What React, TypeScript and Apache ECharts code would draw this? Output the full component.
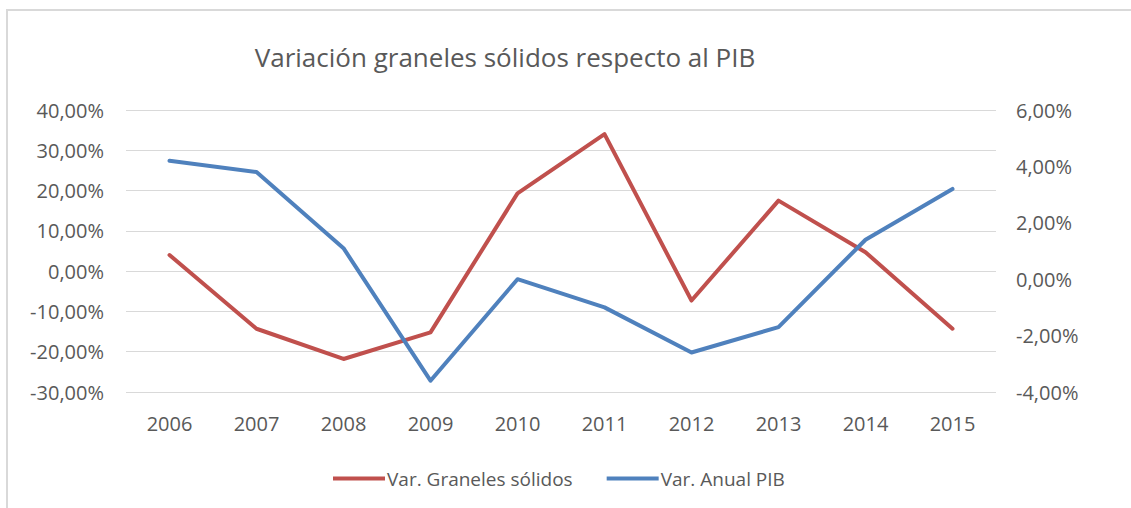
import React, { useEffect, useRef } from "react";
import * as echarts from "echarts";

const years = ["2006", "2007", "2008", "2009", "2010", "2011", "2012", "2013", "2014", "2015"];
const granelesSolidos = [4.0, -14.3, -21.8, -15.2, 19.3, 34.0, -7.3, 17.5, 4.7, -14.3];
const anualPIB = [4.2, 3.8, 1.1, -3.6, 0.0, -1.0, -2.6, -1.7, 1.4, 3.2];
const seriesNames = ["Var. Graneles sólidos", "Var. Anual PIB"];
const titleText = "Variación graneles sólidos respecto al PIB";

const FONT = "'Open Sans', 'Noto Sans', sans-serif";
const TXT = "#595959";

const fmt = (v: number) => v.toFixed(2).replace(".", ",") + "%";

export default function App() {
  const ref = useRef<HTMLDivElement>(null);
  useEffect(() => {
    if (!ref.current) return;
    const chart = echarts.init(ref.current, null, { renderer: "svg" });
    chart.setOption({
      animation: false,
      backgroundColor: "#ffffff",
      textStyle: { fontFamily: FONT },
      graphic: [
        {
          type: "rect",
          shape: { x: 7, y: 10, width: 1200, height: 600 },
          style: { fill: "none", stroke: "#d9d9d9", lineWidth: 2 },
          silent: true,
        },
        {
          type: "text",
          x: 505,
          y: 57,
          style: {
            text: titleText,
            fill: TXT,
            font: `26px ${FONT}`,
            textAlign: "center",
            textVerticalAlign: "middle",
          },
        },
      ],
      legend: {
        data: seriesNames,
        left: 328,
        top: 464,
        itemWidth: 52,
        itemHeight: 4,
        itemGap: 34,
        icon: "rect",
        textStyle: { color: TXT, fontSize: 19, fontFamily: FONT, padding: [0, 0, 0, -3] },
      },
      grid: { left: 126, right: 135, top: 110, bottom: 116, containLabel: false },
      xAxis: {
        type: "category",
        data: years,
        boundaryGap: true,
        axisLine: { show: false },
        axisTick: { show: false },
        axisLabel: { color: TXT, fontSize: 20, margin: 21, fontFamily: FONT },
      },
      yAxis: [
        {
          type: "value",
          min: -30,
          max: 40,
          interval: 10,
          axisLine: { show: false },
          axisTick: { show: false },
          splitLine: { lineStyle: { color: "#d9d9d9", width: 1 } },
          axisLabel: { color: TXT, fontSize: 20, margin: 22, fontFamily: FONT, formatter: fmt },
        },
        {
          type: "value",
          min: -4,
          max: 6,
          interval: 2,
          position: "right",
          axisLine: { show: false },
          axisTick: { show: false },
          splitLine: { show: false },
          axisLabel: { color: TXT, fontSize: 20, margin: 20, fontFamily: FONT, formatter: fmt },
        },
      ],
      series: [
        {
          name: seriesNames[0],
          type: "line",
          yAxisIndex: 0,
          data: granelesSolidos,
          symbol: "none",
          color: "#C0504D",
          lineStyle: { width: 4, color: "#C0504D", cap: "round", join: "round" },
        },
        {
          name: seriesNames[1],
          type: "line",
          yAxisIndex: 1,
          data: anualPIB,
          symbol: "none",
          color: "#4F81BD",
          lineStyle: { width: 4, color: "#4F81BD", cap: "round", join: "round" },
        },
      ],
    });
    return () => chart.dispose();
  }, []);
  return (
    <div
      ref={ref}
      style={{ position: "absolute", left: 0, top: 0, width: 1131, height: 508 }}
    />
  );
}
